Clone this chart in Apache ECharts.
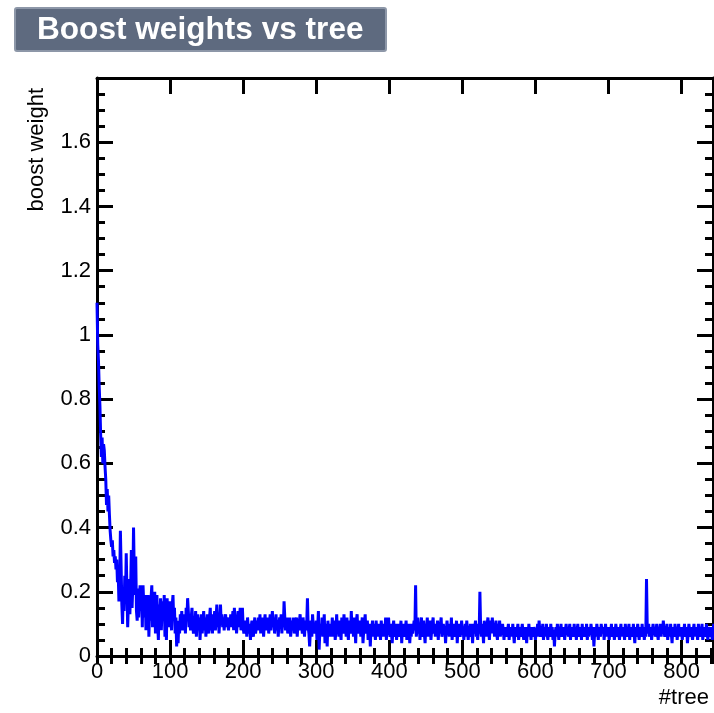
<!DOCTYPE html>
<html>
<head>
<meta charset="utf-8">
<script src="https://cdn.jsdelivr.net/npm/echarts@6/dist/echarts.min.js"></script>
<style>
html,body{margin:0;padding:0;background:#fff;}
#chart{width:714px;height:713px;}
</style>
</head>
<body>
<div id="chart"></div>
<script>
var chartTitle = 'Boost weights vs tree';
var xTitle = '#tree';
var yTitle = 'boost weight';
var xMin = 0, xMax = 843, xMajor = 100, xMinor = 20;
var yMin = 0, yMax = 1.8, yMajor = 0.2;

// boost weight per tree (bin width 1)
var boostWeights = [
1.10,0.97,0.92,0.84,0.78,0.69,0.62,0.68,0.60,0.66,0.64,0.59,0.55,0.47,0.52,0.45,0.50,0.44,0.39,0.36,
0.34,0.36,0.31,0.33,0.29,0.31,0.27,0.30,0.23,0.26,0.17,0.22,0.39,0.28,0.16,0.10,0.21,0.14,0.25,0.18,
0.32,0.20,0.09,0.17,0.24,0.13,0.21,0.33,0.15,0.22,0.40,0.26,0.19,0.31,0.14,0.11,0.21,0.12,0.18,0.22,
0.14,0.20,0.09,0.22,0.16,0.12,0.19,0.08,0.17,0.13,0.19,0.06,0.15,0.11,0.18,0.22,0.09,0.16,0.12,0.20,
0.07,0.14,0.19,0.10,0.05,0.16,0.12,0.18,0.08,0.14,0.17,0.11,0.19,0.06,0.13,0.05,0.18,0.10,0.15,0.09,
0.17,0.12,0.08,0.16,0.19,0.11,0.15,0.07,0.12,0.03,0.09,0.04,0.11,0.07,0.13,0.09,0.14,0.08,0.12,0.10,
0.13,0.07,0.15,0.11,0.18,0.14,0.09,0.13,0.08,0.12,0.15,0.10,0.07,0.12,0.09,0.14,0.06,0.11,0.13,0.08,
0.12,0.05,0.10,0.13,0.07,0.11,0.14,0.08,0.12,0.06,0.10,0.13,0.09,0.07,0.12,0.15,0.08,0.11,0.07,0.13,
0.10,0.14,0.08,0.12,0.16,0.09,0.13,0.07,0.11,0.16,0.10,0.13,0.09,0.12,0.08,0.11,0.13,0.09,0.12,0.10,
0.08,0.12,0.10,0.13,0.09,0.11,0.14,0.08,0.15,0.10,0.12,0.07,0.11,0.14,0.09,0.12,0.15,0.08,0.11,0.15,
0.09,0.07,0.11,0.08,0.10,0.06,0.12,0.09,0.07,0.10,0.05,0.09,0.11,0.08,0.06,0.10,0.12,0.07,0.09,0.11,
0.08,0.12,0.09,0.13,0.07,0.11,0.09,0.12,0.06,0.10,0.13,0.08,0.11,0.09,0.12,0.07,0.10,0.13,0.08,0.11,
0.14,0.09,0.12,0.07,0.10,0.13,0.08,0.11,0.06,0.10,0.12,0.09,0.13,0.07,0.11,0.09,0.17,0.12,0.08,0.10,
0.12,0.07,0.10,0.08,0.12,0.06,0.09,0.11,0.08,0.12,0.07,0.10,0.09,0.12,0.06,0.10,0.08,0.11,0.13,0.08,
0.10,0.07,0.12,0.09,0.06,0.11,0.08,0.10,0.18,0.09,0.07,0.03,0.08,0.11,0.06,0.13,0.09,0.07,0.10,0.08,
0.11,0.05,0.09,0.14,0.02,0.08,0.10,0.07,0.12,0.06,0.09,0.13,0.04,0.10,0.08,0.03,0.11,0.07,0.09,0.06,
0.10,0.08,0.12,0.06,0.09,0.11,0.05,0.08,0.13,0.07,0.10,0.06,0.11,0.08,0.05,0.12,0.09,0.07,0.13,0.08,
0.10,0.06,0.12,0.08,0.05,0.11,0.09,0.07,0.14,0.08,0.10,0.06,0.12,0.09,0.04,0.11,0.13,0.07,0.10,0.08,
0.11,0.06,0.09,0.12,0.04,0.08,0.10,0.13,0.07,0.09,0.11,0.05,0.08,0.10,0.03,0.09,0.07,0.11,0.06,0.10,
0.08,0.05,0.11,0.07,0.09,0.06,0.10,0.08,0.05,0.11,0.07,0.09,0.06,0.10,0.08,0.12,0.05,0.09,0.07,0.12,
0.08,0.06,0.10,0.07,0.04,0.09,0.11,0.06,0.08,0.10,0.05,0.09,0.07,0.10,0.06,0.08,0.11,0.04,0.09,0.07,
0.10,0.06,0.08,0.11,0.05,0.09,0.07,0.10,0.04,0.08,0.06,0.10,0.07,0.09,0.11,0.08,0.22,0.06,0.09,0.12,
0.07,0.10,0.05,0.09,0.12,0.06,0.08,0.11,0.07,0.04,0.10,0.08,0.12,0.06,0.09,0.07,0.11,0.05,0.08,0.10,
0.12,0.07,0.09,0.06,0.10,0.08,0.11,0.05,0.09,0.07,0.10,0.12,0.06,0.08,0.10,0.07,0.09,0.04,0.08,0.11,
0.07,0.09,0.06,0.10,0.08,0.12,0.05,0.09,0.07,0.10,0.06,0.08,0.11,0.04,0.09,0.07,0.10,0.06,0.08,0.11,
0.07,0.09,0.05,0.08,0.10,0.06,0.11,0.08,0.05,0.09,0.07,0.10,0.06,0.08,0.04,0.10,0.07,0.09,0.11,0.06,
0.08,0.05,0.10,0.07,0.20,0.09,0.06,0.10,0.08,0.04,0.11,0.07,0.09,0.06,0.10,0.12,0.08,0.05,0.09,0.11,
0.07,0.12,0.08,0.10,0.06,0.09,0.11,0.07,0.05,0.10,0.08,0.11,0.06,0.09,0.07,0.10,0.08,0.05,0.09,0.07,
0.09,0.06,0.08,0.10,0.05,0.08,0.07,0.09,0.06,0.10,0.07,0.04,0.08,0.09,0.06,0.08,0.10,0.05,0.07,0.09,
0.06,0.08,0.10,0.07,0.05,0.09,0.07,0.08,0.04,0.09,0.06,0.10,0.07,0.08,0.05,0.09,0.07,0.06,0.09,0.08,
0.05,0.08,0.07,0.10,0.06,0.11,0.08,0.06,0.09,0.07,0.10,0.05,0.08,0.09,0.06,0.10,0.07,0.05,0.09,0.08,
0.06,0.10,0.07,0.09,0.05,0.08,0.03,0.07,0.09,0.06,0.10,0.08,0.05,0.09,0.07,0.10,0.06,0.08,0.07,0.09,
0.05,0.08,0.10,0.07,0.09,0.06,0.08,0.10,0.05,0.09,0.07,0.08,0.06,0.10,0.07,0.09,0.05,0.08,0.10,0.06,
0.08,0.07,0.09,0.05,0.10,0.07,0.08,0.06,0.09,0.07,0.10,0.05,0.08,0.06,0.09,0.07,0.10,0.08,0.05,0.09,
0.03,0.07,0.09,0.06,0.10,0.08,0.05,0.09,0.07,0.06,0.10,0.08,0.07,0.09,0.05,0.08,0.10,0.06,0.09,0.07,
0.08,0.05,0.09,0.07,0.10,0.06,0.08,0.09,0.05,0.07,0.10,0.08,0.06,0.09,0.07,0.05,0.08,0.10,0.06,0.09,
0.07,0.08,0.05,0.10,0.07,0.09,0.06,0.08,0.10,0.05,0.09,0.07,0.08,0.06,0.10,0.07,0.04,0.09,0.06,0.08,
0.10,0.07,0.05,0.09,0.08,0.06,0.10,0.07,0.09,0.05,0.08,0.06,0.24,0.09,0.07,0.10,0.06,0.08,0.09,0.05,
0.08,0.10,0.07,0.09,0.06,0.08,0.10,0.07,0.05,0.09,0.08,0.10,0.06,0.09,0.07,0.11,0.08,0.06,0.09,0.07,
0.10,0.05,0.08,0.09,0.06,0.10,0.07,0.04,0.09,0.08,0.06,0.10,0.07,0.09,0.05,0.08,0.10,0.06,0.09,0.07,
0.08,0.05,0.09,0.07,0.10,0.06,0.08,0.09,0.04,0.07,0.10,0.08,0.06,0.09,0.07,0.05,0.08,0.10,0.06,0.09,
0.07,0.08,0.05,0.10,0.07,0.09,0.06,0.08,0.10,0.05,0.09,0.07,0.08,0.06,0.10,0.07,0.05,0.09,0.08,0.06,
0.09,0.07,0.05,0.08,0.10,0.06,0.08,0.07,0.09,0.06
];

var FONT = '"Liberation Sans", Arial, Helvetica, sans-serif';
var lineData = boostWeights.map(function (v, i) { return [i, v]; });
lineData.push([boostWeights.length, boostWeights[boostWeights.length - 1]]);

var frame = { show: true, onZero: false, lineStyle: { color: '#000', width: 3 } };
function xAx(pos, interval, len, withLabel) {
  return {
    type: 'value', position: pos, min: xMin, max: xMax, interval: interval,
    axisLine: interval === xMajor ? frame : { show: false },
    axisTick: { show: true, inside: true, length: len, lineStyle: { color: '#000', width: 3 } },
    axisLabel: withLabel ? { show: true, color: '#000', fontSize: 22, fontFamily: FONT, margin: 5, showMaxLabel: false } : { show: false },
    splitLine: { show: false }
  };
}
function yAx(pos, withLabel) {
  return {
    type: 'value', position: pos, min: yMin, max: yMax, interval: yMajor,
    axisLine: frame,
    axisTick: { show: true, inside: true, length: 16, lineStyle: { color: '#000', width: 3 } },
    minorTick: { show: true, splitNumber: 4, length: 8, lineStyle: { color: '#000', width: 3 } },
    axisLabel: withLabel ? { show: true, color: '#000', fontSize: 22, fontFamily: FONT, margin: 6, showMaxLabel: false } : { show: false },
    splitLine: { show: false }, minorSplitLine: { show: false }
  };
}

var chart = echarts.init(document.getElementById('chart'), null, { renderer: 'canvas' });
chart.setOption({
  backgroundColor: '#fff',
  animation: false,
  grid: { left: 97, right: 1, top: 78, bottom: 57, containLabel: false },
  xAxis: [
    xAx('bottom', xMajor, 16, true),
    xAx('bottom', xMinor, 8, false),
    xAx('top', xMajor, 16, false),
    xAx('top', xMinor, 8, false)
  ],
  yAxis: [yAx('left', true), yAx('right', false)],
  series: [{
    type: 'line', xAxisIndex: 0, yAxisIndex: 0, data: lineData, step: 'end',
    showSymbol: false, symbol: 'none', clip: true,
    lineStyle: { color: '#0000ff', width: 3 }
  }],
  graphic: [
    { type: 'rect', shape: { x: 15, y: 8, width: 371, height: 43, r: 2 },
      style: { fill: '#5e6a7f', stroke: '#8d97a8', lineWidth: 2 } },
    { type: 'text', x: 37, y: 30,
      style: { text: chartTitle, fill: '#fff', fontSize: 31.6, fontWeight: 'bold', fontFamily: FONT, textAlign: 'left', textVerticalAlign: 'middle' } },
    { type: 'text', x: 37, y: 88, rotation: Math.PI / 2,
      style: { text: yTitle, fill: '#000', fontSize: 22, fontFamily: FONT, textAlign: 'right', textVerticalAlign: 'middle' } },
    { type: 'text', x: 709, y: 698,
      style: { text: xTitle, fill: '#000', fontSize: 22, fontFamily: FONT, textAlign: 'right', textVerticalAlign: 'middle' } }
  ]
});
</script>
</body>
</html>
